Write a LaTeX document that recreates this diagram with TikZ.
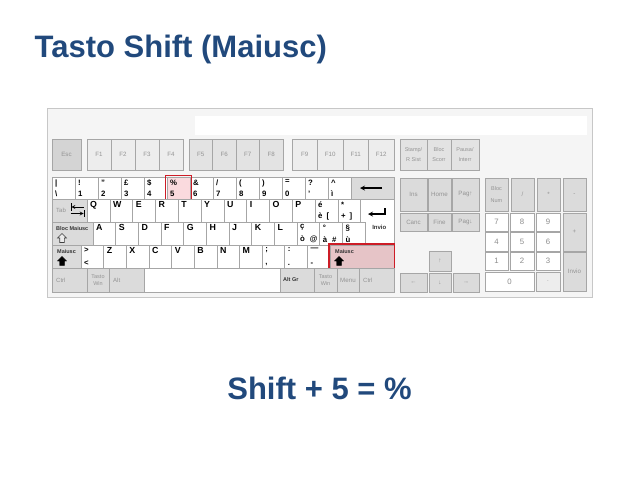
\documentclass[tikz,border=0pt]{standalone}
\usepackage{fontspec}
\setmainfont{Liberation Sans}
\usepackage{xcolor}
\usepackage{tikz}
\usetikzlibrary{positioning,calc}

\definecolor{blutitolo}{RGB}{33,73,124}
\definecolor{rossobordo}{RGB}{205,28,38}
\definecolor{rosachiaro}{RGB}{250,218,222}
\definecolor{rosascuro}{RGB}{230,196,199}

\tikzset{
	tasto/.style={draw=black!35, line width=0.5pt, inner sep=0pt, outer sep=0pt, anchor=north west},
	bianco/.style={tasto, fill=white},
	grigio/.style={tasto, fill=black!14, text=black!42, font=\fontsize{6.2}{7}\selectfont, align=center},
	grigiochiaro/.style={grigio, fill=black!7},
	grigiomedio/.style={grigio, fill=black!11},
	numero/.style={tasto, fill=white, text=black!45, font=\fontsize{7.8}{8}\selectfont},
	sopra/.style={anchor=north west, inner sep=0pt, font=\bfseries\fontsize{7.8}{8}\selectfont},
	sotto/.style={anchor=south west, inner sep=0pt, font=\bfseries\fontsize{7.8}{8}\selectfont},
	lettera/.style={sopra, font=\bfseries\fontsize{8.8}{9}\selectfont},
	nota/.style={anchor=west, inner sep=0pt, text=black!42, font=\fontsize{6}{7}\selectfont},
	notascura/.style={anchor=north west, inner sep=0pt, text=black!80, font=\bfseries\fontsize{5.5}{6.5}\selectfont},
	cornice/.style={draw=rossobordo, line width=1.8pt},
	titolo/.style={inner sep=0pt, text=blutitolo, font=\bfseries\fontsize{31}{37}\selectfont},
}

\newcommand{\tastoGrigio}[7]
{
	\node[#6, minimum width=#4, minimum height=#5] (#1) at (#2,#3) {#7};
}

\newcommand{\tastoSegni}[8][bianco]
{
	\node[#1, minimum width=#5, minimum height=#6] (#2) at (#3,#4) {};
	\node[sopra] (#2a) at ([xshift=3pt,yshift=-2.5pt]#2.north west) {#7};
	\node[sotto] (#2b) at ([xshift=3pt,yshift=2pt]#2.south west) {#8};
}

\newcommand{\tastoLettera}[5]
{
	\node[bianco, minimum width=#4, minimum height=23] (#1) at (#2,#3) {};
	\node[lettera] (#1a) at ([xshift=3pt,yshift=-2.5pt]#1.north west) {#5};
}

\newcommand{\frecciaMaiusc}[2]
{
	\draw[#2] (#1) ++(0,-4.5) -- ++(4.5,4.5) -- ++(-2.2,0) -- ++(0,4.5) -- ++(-4.6,0) -- ++(0,-4.5) -- ++(-2.2,0) -- cycle;
}

\begin{document}
\begin{tikzpicture}[>=stealth, x=1pt, y=-1pt]
\useasboundingbox (0,0) rectangle (638,479);

\node[titolo, anchor=base west] (titolo) at (34.5,57) {Tasto Shift (Maiusc)};
\node[titolo, anchor=base] (somma) at (319.5,399) {Shift + 5 = \%};

\node[tasto, draw=black!22, fill=black!4, minimum width=545, minimum height=189] (tastiera) at (47,108) {};
\node[tasto, draw=none, fill=white, minimum width=392, minimum height=19] (striscia) at (195,116) {};

% tasti funzione
\tastoGrigio{esc}{52}{139}{29}{31}{grigio, fill=black!17}{Esc}
\tastoGrigio{f1}{87}{139}{24}{31}{grigiochiaro}{F1}
\tastoGrigio{f2}{111}{139}{24}{31}{grigiochiaro}{F2}
\tastoGrigio{f3}{135}{139}{24}{31}{grigiochiaro}{F3}
\tastoGrigio{f4}{159}{139}{24}{31}{grigiochiaro}{F4}
\tastoGrigio{f5}{189}{139}{23.5}{31}{grigiomedio}{F5}
\tastoGrigio{f6}{212.5}{139}{23.5}{31}{grigiomedio}{F6}
\tastoGrigio{f7}{236}{139}{23.5}{31}{grigiomedio}{F7}
\tastoGrigio{f8}{259.5}{139}{23.5}{31}{grigiomedio}{F8}
\tastoGrigio{f9}{292}{139}{25.5}{31}{grigiochiaro}{F9}
\tastoGrigio{f10}{317.5}{139}{25.5}{31}{grigiochiaro}{F10}
\tastoGrigio{f11}{343}{139}{25.5}{31}{grigiochiaro}{F11}
\tastoGrigio{f12}{368.5}{139}{25.5}{31}{grigiochiaro}{F12}
\tastoGrigio{stamp}{400}{139}{27}{31}{grigiomedio, font=\fontsize{5.5}{6.5}\selectfont}{Stamp/\\[4pt]R Sist}
\tastoGrigio{bloc}{427}{139}{24}{31}{grigiomedio, font=\fontsize{5.5}{6.5}\selectfont}{Bloc\\[4pt]Scorr}
\tastoGrigio{pausa}{451}{139}{28}{31}{grigiomedio, font=\fontsize{5.5}{6.5}\selectfont}{Pausa/\\[4pt]Interr}

% riga dei numeri
\tastoSegni{kbar}{52}{177}{23}{22}{|}{\textbackslash}
\tastoSegni{k1}{75}{177}{23}{22}{!}{1}
\tastoSegni{k2}{98}{177}{23}{22}{"}{2}
\tastoSegni{k3}{121}{177}{23}{22}{£}{3}
\tastoSegni{k4}{144}{177}{23}{22}{\$}{4}
\tastoSegni{k6}{190}{177}{23}{22}{\&}{6}
\tastoSegni{k7}{213}{177}{23}{22}{/}{7}
\tastoSegni{k8}{236}{177}{23}{22}{(}{8}
\tastoSegni{k9}{259}{177}{23}{22}{)}{9}
\tastoSegni{k0}{282}{177}{23}{22}{=}{0}
\tastoSegni{kapos}{305}{177}{23}{22}{?}{'}
\tastoSegni{kigr}{328}{177}{23}{22}{\textasciicircum}{ì}
\tastoSegni[bianco, fill=rosachiaro]{k5}{167}{177}{23}{22}{\%}{5}
\draw[cornice] ([shift={(-1.5pt,1.5pt)}]k5.north west) rectangle ([shift={(1.5pt,-1pt)}]k5.south east);
\tastoGrigio{bksp}{351}{177}{43}{22}{grigio}{}
\draw[->, line width=1.2pt] ([xshift=-12pt]bksp.east) -- ([xshift=9pt]bksp.west);

% riga QWERTY
\tastoGrigio{tab}{52}{199}{35}{23}{grigio}{}
\node[nota] (tabt) at ([xshift=4pt]tab.west) {Tab};
\draw[|<-, line width=0.8pt] ([xshift=1pt,yshift=3.5pt]tab.center) -- ([xshift=14pt,yshift=3.5pt]tab.center);
\draw[->|, line width=0.8pt] ([xshift=1pt,yshift=-3pt]tab.center) -- ([xshift=15pt,yshift=-3pt]tab.center);
\tastoLettera{kq}{87}{199}{22.8}{Q}
\tastoLettera{kw}{109.8}{199}{22.8}{W}
\tastoLettera{ke}{132.6}{199}{22.8}{E}
\tastoLettera{kr}{155.4}{199}{22.8}{R}
\tastoLettera{kt}{178.2}{199}{22.8}{T}
\tastoLettera{ky}{201}{199}{22.8}{Y}
\tastoLettera{ku}{223.8}{199}{22.8}{U}
\tastoLettera{ki}{246.6}{199}{22.8}{I}
\tastoLettera{ko}{269.4}{199}{22.8}{O}
\tastoLettera{kp}{292.2}{199}{22.8}{P}
\tastoSegni{kegr}{315}{199}{22.8}{23}{é}{è\hspace{4pt}[}
\tastoSegni{kpiu}{337.8}{199}{22.8}{23}{*}{+\hspace{4pt}]}
\node[bianco, minimum width=33.4, minimum height=46] (invio) at (360.6,199) {};

% riga ASDF
\tastoGrigio{caps}{52}{222}{41}{23}{grigio}{}
\node[notascura] (capst) at ([xshift=4pt,yshift=-4pt]caps.north west) {Bloc Maiusc};
\frecciaMaiusc{$(caps.north west)+(10,16)$}{draw=black!75, fill=black!8, line width=0.6pt}
\tastoLettera{ka}{93}{222}{22.67}{A}
\tastoLettera{ks}{115.67}{222}{22.67}{S}
\tastoLettera{kd}{138.33}{222}{22.67}{D}
\tastoLettera{kf}{161}{222}{22.67}{F}
\tastoLettera{kg}{183.67}{222}{22.67}{G}
\tastoLettera{kh}{206.33}{222}{22.67}{H}
\tastoLettera{kj}{229}{222}{22.67}{J}
\tastoLettera{kk}{251.67}{222}{22.67}{K}
\tastoLettera{kl}{274.33}{222}{22.67}{L}
\tastoSegni{kced}{297}{222}{22.67}{23}{ç}{ò\hspace{5pt}@}
\tastoSegni{kgrado}{319.67}{222}{22.67}{23}{°}{à\hspace{5pt}\#}
\tastoSegni{kpar}{342.33}{222}{22.67}{23}{§}{ù}
\draw[->, line width=1.2pt] ([xshift=-9pt,yshift=-9pt]invio.north east) -- ++(0,6) -- ++(-17,0);
\node[notascura, anchor=center, font=\bfseries\fontsize{6}{7}\selectfont] (paroleinvio) at ([xshift=2pt,yshift=-5pt]invio.center) {Invio};

% riga ZXCV
\tastoGrigio{maiuscS}{52}{245}{29}{23}{grigio}{}
\node[notascura] (maiuscSt) at ([xshift=5pt,yshift=-4pt]maiuscS.north west) {Maiusc};
\frecciaMaiusc{$(maiuscS.north west)+(10,16)$}{fill=black}
\tastoSegni{kmin}{81}{245}{22.64}{23}{>}{<}
\tastoLettera{kz}{103.64}{245}{22.64}{Z}
\tastoLettera{kx}{126.27}{245}{22.64}{X}
\tastoLettera{kc}{148.91}{245}{22.64}{C}
\tastoLettera{kv}{171.55}{245}{22.64}{V}
\tastoLettera{kb}{194.18}{245}{22.64}{B}
\tastoLettera{kn}{216.82}{245}{22.64}{N}
\tastoLettera{km}{239.45}{245}{22.64}{M}
\tastoSegni{kvirg}{262.09}{245}{22.64}{23}{;}{,}
\tastoSegni{kpunto}{284.73}{245}{22.64}{23}{:}{.}
\tastoSegni{ktratt}{307.36}{245}{22.64}{23}{—}{-}
\tastoGrigio{maiuscD}{330}{245}{64}{23}{grigio, fill=rosascuro}{}
\node[notascura] (maiuscDt) at ([xshift=5pt,yshift=-4pt]maiuscD.north west) {Maiusc};
\frecciaMaiusc{$(maiuscD.north west)+(9,16)$}{fill=black}
\draw[cornice] ([shift={(-1pt,1pt)}]maiuscD.north west) rectangle ([shift={(0.5pt,-1pt)}]maiuscD.south east);

% riga in basso
\tastoGrigio{ctrlS}{52}{268}{35}{24}{grigio}{}
\node[nota] (ctrlSt) at ([xshift=4pt]ctrlS.west) {Ctrl};
\tastoGrigio{winS}{87}{268}{22}{24}{grigio, font=\fontsize{5.5}{6.5}\selectfont}{Tasto\\Win}
\tastoGrigio{alt}{109}{268}{35}{24}{grigio}{}
\node[nota] (altt) at ([xshift=4pt]alt.west) {Alt};
\node[bianco, minimum width=136, minimum height=24] (spazio) at (144,268) {};
\tastoGrigio{altgr}{280}{268}{34}{24}{grigio}{}
\node[notascura, anchor=west] (altgrt) at ([xshift=3pt]altgr.west) {Alt Gr};
\tastoGrigio{winD}{314}{268}{23}{24}{grigio, font=\fontsize{5.5}{6.5}\selectfont}{Tasto\\Win}
\tastoGrigio{menu}{337}{268}{22}{24}{grigio}{Menu}
\tastoGrigio{ctrlD}{359}{268}{35}{24}{grigio}{}
\node[nota] (ctrlDt) at ([xshift=4pt]ctrlD.west) {Ctrl};

% tasti di navigazione
\tastoGrigio{ins}{400}{178}{27}{33}{grigio}{Ins}
\tastoGrigio{home}{428}{178}{23}{33}{grigio}{Home}
\tastoGrigio{pagsu}{452}{178}{27}{33}{grigio}{Pag↑}
\tastoGrigio{canc}{400}{213}{27}{18}{grigio}{Canc}
\tastoGrigio{fine}{428}{213}{23}{18}{grigio}{Fine}
\tastoGrigio{paggiu}{452}{213}{27}{18}{grigio}{Pag↓}
\tastoGrigio{su}{429}{251}{22}{20}{grigio}{↑}
\tastoGrigio{sx}{400}{273}{27}{19}{grigio}{←}
\tastoGrigio{giu}{429}{273}{22}{19}{grigio}{↓}
\tastoGrigio{dx}{453}{273}{26}{19}{grigio}{→}

% tastierino numerico
\tastoGrigio{blocnum}{485}{178}{23}{33}{grigio, font=\fontsize{5.5}{6.5}\selectfont}{Bloc\\[6pt]Num}
\tastoGrigio{diviso}{511}{178}{23}{33}{grigio}{/}
\tastoGrigio{per}{537}{178}{23}{33}{grigio}{*}
\tastoGrigio{meno}{563}{178}{23}{33}{grigio}{-}
\tastoGrigio{n7}{485}{213}{23}{18}{numero}{7}
\tastoGrigio{n8}{510}{213}{24}{18}{numero}{8}
\tastoGrigio{n9}{536}{213}{24}{18}{numero}{9}
\tastoGrigio{piu}{563}{213}{23}{38}{grigio}{+}
\tastoGrigio{n4}{485}{232}{23}{19}{numero}{4}
\tastoGrigio{n5}{510}{232}{24}{19}{numero}{5}
\tastoGrigio{n6}{536}{232}{24}{19}{numero}{6}
\tastoGrigio{n1}{485}{252}{23}{18}{numero}{1}
\tastoGrigio{n2}{510}{252}{24}{18}{numero}{2}
\tastoGrigio{n3}{536}{252}{24}{18}{numero}{3}
\tastoGrigio{invioN}{563}{252}{23}{39}{grigio}{Invio}
\tastoGrigio{n0}{485}{272}{49}{19}{numero}{0}
\tastoGrigio{virgola}{536}{272}{24}{19}{grigiochiaro}{.}
\end{tikzpicture}
\end{document}
